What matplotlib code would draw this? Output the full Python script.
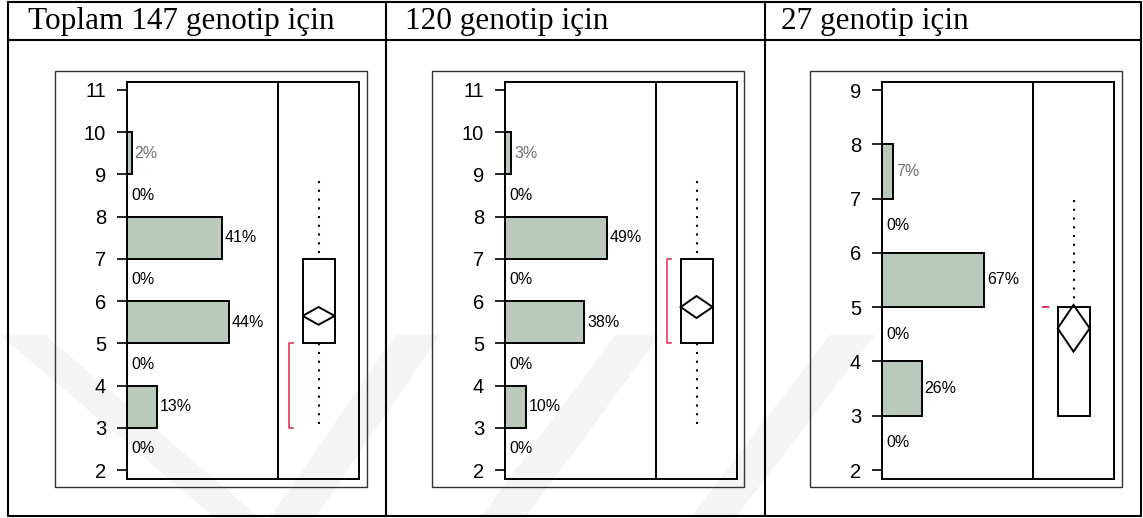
import numpy as np
import matplotlib.pyplot as plt
from matplotlib.patches import Rectangle, Polygon

# Header titles of the three table columns
titles = ["Toplam 147 genotip için", "120 genotip için", "27 genotip için"]

# Histogram bins (lower edge, width 1) and percentages for each panel
bins1 = [2, 3, 4, 5, 6, 7, 8, 9]
pct1 = [0, 13, 0, 44, 0, 41, 0, 2]
bins2 = [2, 3, 4, 5, 6, 7, 8, 9]
pct2 = [0, 10, 0, 38, 0, 49, 0, 3]
bins3 = [2, 3, 4, 5, 6, 7]
pct3 = [0, 26, 0, 67, 0, 7]

# y-axis ranges and ticks
ylims = [(2, 11), (2, 11), (2, 9)]

# Box summary: q1, q3, mean, mean half-width, whisker low, whisker high
q1 = [5, 5, 3]
q3 = [7, 7, 5]
means = [5.65, 5.86, 4.61]
mean_ci = [0.21, 0.26, 0.43]
whisk_lo = [3.1, 3.1, 3]
whisk_hi = [8.85, 8.85, 6.97]
# Shortest half (red bracket)
short_lo = [3, 5, 5]
short_hi = [5, 7, 5]

W, H = 1143, 518
fig = plt.figure(figsize=(W / 100, H / 100), dpi=100)
fig.patch.set_facecolor("white")

# background axes in pixel coordinates for the table
bg = fig.add_axes([0, 0, 1, 1])
bg.set_xlim(0, W)
bg.set_ylim(H, 0)
bg.axis("off")

# faint watermark stripes
wm = "#f4f4f4"
for x_top, x_bot in [(0, 215), (395, 270), (615, 480), (830, 690)]:
    bg.add_patch(Polygon([(x_top, 335), (x_top + 45, 335), (x_bot + 45, 518), (x_bot, 518)],
                         closed=True, facecolor=wm, edgecolor="none", zorder=0))

lw_tab = 1.5
bg.plot([8, 1141, 1141, 8, 8], [2, 2, 516, 516, 2], color="black", lw=lw_tab)
bg.plot([8, 1141], [39.5, 39.5], color="black", lw=lw_tab)
for xd in [386, 765]:
    bg.plot([xd, xd], [2, 516], color="black", lw=lw_tab)

title_x = [28, 405, 781]
for tx, t in zip(title_x, titles):
    bg.text(tx, 29, t, fontsize=22.5, family="Liberation Serif", va="baseline", ha="left")

# inner chart frames
frame_x = [55, 432, 810]
for fx in frame_x:
    bg.add_patch(Rectangle((fx, 71), 312, 416, fill=False, edgecolor="#333333",
                           lw=1.0, zorder=1))

axis_left = [127, 505, 882]
bar_color = "#b9c9bb"
red = "#e8375a"
data = [(bins1, pct1), (bins2, pct2), (bins3, pct3)]


def pix_to_fig(x, y, w, h):
    return [x / W, 1 - (y + h) / H, w / W, h / H]


for i in range(3):
    bins, pct = data[i]
    ylo, yhi = ylims[i]
    unit = 380.0 / (yhi - ylo)
    y_top = yhi + 8.0 / unit
    y_bot = ylo - 9.0 / unit

    xl = axis_left[i]
    ax1 = fig.add_axes(pix_to_fig(xl, 82, 151, 397))
    ax2 = fig.add_axes(pix_to_fig(xl + 151, 82, 81, 397))

    ax1.set_ylim(y_bot, y_top)
    ax2.set_ylim(y_bot, y_top)
    xmax = max(pct) * 151.0 / 102.0
    ax1.set_xlim(0, xmax)
    ax2.set_xlim(0, 1)

    for a in (ax1, ax2):
        for s in a.spines.values():
            s.set_linewidth(1.4)
        a.set_xticks([])
        a.patch.set_alpha(0)
    ax2.set_yticks([])

    ax1.set_yticks(range(ylo, yhi + 1))
    ax1.tick_params(axis="y", length=7, width=1.2, pad=8, labelsize=14.5)
    for lab in ax1.get_yticklabels():
        lab.set_family("Liberation Sans")

    per_px = xmax / 151.0
    for k, (b, p) in enumerate(zip(bins, pct)):
        col = "#6f6f6f" if k == len(bins) - 1 else "black"
        if p > 0:
            ax1.barh(b + 0.5, p, height=1.0, left=0, color=bar_color,
                     edgecolor="black", lw=1.4)
            ax1.text(p + 3 * per_px, b + 0.5, f"{p}%", fontsize=11.5, color=col,
                     va="center", ha="left", family="Liberation Sans")
        else:
            ax1.text(4 * per_px, b + 0.5, f"{p}%", fontsize=11.5, color=col,
                     va="center", ha="left", family="Liberation Sans")

    # box
    bx0, bx1, cx = 0.305, 0.70, 0.5
    ax2.add_patch(Rectangle((bx0, q1[i]), bx1 - bx0, q3[i] - q1[i], fill=False,
                            edgecolor="black", lw=1.4, zorder=3))
    m, c = means[i], mean_ci[i]
    ax2.add_patch(Polygon([(bx0, m), (cx, m + c), (bx1, m), (cx, m - c)], closed=True,
                          fill=False, edgecolor="black", lw=1.4, zorder=4))
    dots = (0, (1, 3.2))
    if whisk_hi[i] > q3[i]:
        ax2.plot([cx, cx], [whisk_hi[i], q3[i]], color="black", lw=1.5, ls=dots)
    if whisk_lo[i] < q1[i]:
        ax2.plot([cx, cx], [whisk_lo[i], q1[i]], color="black", lw=1.5, ls=dots)

    # shortest half bracket
    rx = 11.0 / 81
    tk = 4.0 / 81
    if short_hi[i] > short_lo[i]:
        ax2.plot([rx + tk, rx, rx, rx + tk], [short_lo[i], short_lo[i], short_hi[i], short_hi[i]],
                 color=red, lw=1.2)
    else:
        ax2.plot([rx - 1.0 / 81, rx + tk], [short_lo[i], short_hi[i]], color=red, lw=1.5)

fig.savefig("out.png", dpi=100)
